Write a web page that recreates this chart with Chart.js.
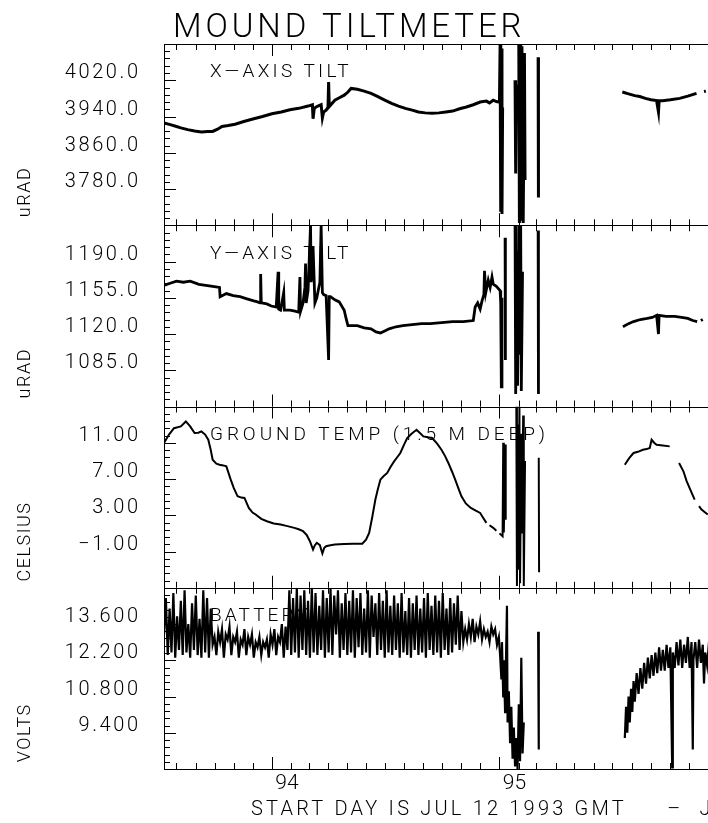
<!DOCTYPE html>
<html>
<head>
<meta charset="utf-8">
<title>Mound Tiltmeter</title>
<script src="https://cdn.jsdelivr.net/npm/chart.js@4.4.1/dist/chart.umd.min.js"></script>
<style>
  html, body { margin: 0; padding: 0; background: #fff; overflow: hidden; }
  #wrap { width: 708px; height: 823px; overflow: hidden; }
  canvas { display: block; }
</style>
</head>
<body>
<div id="wrap"><canvas id="chart" width="760" height="823" style="width:760px;height:823px"></canvas></div>
<script>
// x values are days after the start day (JUL 12 1993)
const START = Date.UTC(1993, 6, 12);
const DAY = 86400000;

const yearLabels = ['94', '95'];
const yearDays = [173, 538];

const panelNames = ['X\u2014AXIS TILT', 'Y\u2014AXIS TILT', 'GROUND TEMP (1.5 M DEEP)', 'BATTERY'];
const panelUnits = ['uRAD', 'uRAD', 'CELSIUS', 'VOLTS'];
const panelRanges = [[3700, 4100], [1050, 1225], [-5, 15], [8, 15]];
const panelTicks = [[3780, 3860, 3940, 4020], [1085, 1120, 1155, 1190], [-1, 3, 7, 11], [9.4, 10.8, 12.2, 13.6]];
const panelDecimals = [1, 1, 2, 3];

// X-axis tilt, uRAD
const tiltXDays = [0, 10, 20, 27, 38, 49, 60, 70, 78, 86, 93, 103, 114, 128, 144, 158, 173, 188, 202, 216,
  231, 238, 239, 241, 245, 252, 254, 256, 260, 263, 264, 265, 274, 282, 289, 295, 300, 310, 321, 332,
  343, 354, 365, 376, 387, 398, 408, 419, 430, 441, 452, 463, 474, 485, 496, 507, 517, 522, 528, 533,
  536, 538, 539, 540, 541, 542, 543, 544, 563, 564, 565, 566, 569, 570, 571, 572, 574, 576, 578, 579,
  580, 600, 600.5, 601, 735, 745, 755, 763, 772, 781, 790, 793, 794, 800, 812, 827, 840, 854, 862, 866, 869];
const tiltX = [3926, 3922, 3918, 3915, 3911, 3908, 3906, 3907, 3907, 3912, 3918, 3920, 3923, 3929, 3935, 3940, 3946, 3950, 3955, 3958,
  3963, 3966, 3935, 3958, 3962, 3966, 3937, 3950, 3954, 3960, 4016, 3962, 3976, 3982, 3987, 3994, 4002, 4000, 3996, 3991,
  3984, 3976, 3969, 3963, 3958, 3954, 3950, 3948, 3947, 3948, 3950, 3952, 3957, 3961, 3966, 3972, 3974, 3970, 3976, 3973,
  3972, 3974, 4098, 3730, 4090, 3725, 3960, null, 4020, 3814, 4010, null, 4100, 3705, 4098, 3710, 4095, 3705, 4080, 3800,
  null, 4071, 3761, null, 3994, 3990, 3986, 3984, 3980, 3977, 3975, 3950, 3975, 3975, 3977, 3980, 3985, 3991, null, 3995, 3996];

// Y-axis tilt, uRAD
const tiltYDays = [0, 10, 20, 31, 42, 56, 67, 78, 89, 90, 100, 111, 122, 133, 144, 150, 154, 155, 156, 165,
  172, 180, 183, 184, 187, 192, 193, 202, 210, 216, 218, 219, 223, 226, 227, 228, 231, 235, 236, 239,
  242, 245, 250, 252, 254, 256, 260, 264, 265, 267, 274, 281, 289, 292, 295, 303, 310, 321, 332, 340,
  347, 354, 361, 372, 383, 398, 413, 427, 445, 463, 480, 496, 499, 503, 507, 510, 513, 514, 516, 520,
  523, 526, 528, 533, 539, 540, 541, 542, 543, 547, 547.5, 548, 563, 564, 566, 567, 569, 570, 572, 573,
  575, 576, 600, 600.5, 601, 736, 745, 753, 764, 775, 783, 790, 793, 794, 805, 819, 830, 840, 848, 855,
  858, 861, 864];
const tiltY = [1167, 1169, 1171, 1170, 1171, 1168, 1167, 1166, 1165, 1156, 1159, 1157, 1156, 1154, 1152, 1151, 1150, 1178, 1150, 1149,
  1147, 1146, 1180, 1144, 1143, 1160, 1143, 1143, 1142, 1141, 1175, 1142, 1150, 1165, 1188, 1150, 1162, 1225, 1170, 1205,
  1150, 1155, 1170, 1225, 1160, 1158, 1157, 1095, 1156, 1156, 1153, 1151, 1143, 1135, 1128, 1128, 1128, 1126, 1125, 1122,
  1121, 1123, 1125, 1127, 1128, 1129, 1130, 1130, 1131, 1132, 1132, 1133, 1146, 1150, 1144, 1152, 1158, 1181, 1160, 1172,
  1165, 1175, 1168, 1166, 1162, 1150, 1069, 1155, null, 1213, 1095, null, 1225, 1062, 1200, 1070, 1225, 1100, 1225, 1065,
  1180, null, 1220, 1062, null, 1127, 1130, 1132, 1134, 1135, 1136, 1138, 1120, 1138, 1137, 1137, 1136, 1135, 1133, 1132,
  null, 1133, 1134];

// ground temperature 1.5 m deep, celsius
const tempDays = [0, 8, 16, 27, 35, 42, 49, 55, 60, 66, 71, 75, 78, 84, 89, 95, 100, 107, 112, 118,
  124, 129, 136, 142, 147, 156, 165, 176, 187, 198, 209, 216, 223, 229, 234, 239, 242, 245, 250, 254,
  257, 260, 267, 274, 289, 303, 318, 324, 329, 334, 339, 343, 347, 352, 358, 363, 369, 374, 379, 385,
  390, 397, 405, 410, 416, 423, 430, 438, 445, 451, 456, 462, 467, 472, 477, 484, 492, 500, 507, 512,
  517, 520, 522, 528, 533, 536, 538, 543, 544, 545, 547, 548, 549, 565, 566, 567, 568, 570, 571, 573,
  574, 576, 577, 579, 580, 601, 601.5, 602, 739, 746, 753, 760, 768, 774, 779, 782, 786, 790, 800, 811,
  815, 826, 833, 838, 844, 851, 855, 858, 862, 872];
const temp = [10.97, 11.9, 12.6, 12.8, 13.35, 12.8, 12.07, 12.1, 12.25, 11.9, 11.33, 10.2, 9.13, 8.7, 8.58, 8.5, 8.39, 6.93, 6.0, 5.09,
  4.95, 4.91, 3.81, 3.3, 3.08, 2.6, 2.34, 2.1, 1.98, 1.8, 1.61, 1.45, 1.24, 0.8, 0.14, -0.78, -0.3, -0.04, -0.3, -1.22,
  -0.6, -0.41, -0.3, -0.23, -0.18, -0.15, -0.15, 0.3, 1.06, 2.8, 4.73, 5.9, 6.93, 7.3, 7.67, 8.3, 8.94, 9.4, 9.87, 10.8,
  11.52, 12.0, 12.43, 12.1, 11.7, 11.6, 11.52, 10.9, 10.23, 9.5, 8.77, 7.8, 6.93, 6.0, 5.09, 4.3, 3.81, 3.5, 3.26, 2.7,
  2.16, null, 1.9, 1.61, 1.3, null, 1.0, 0.69, 11.0, 1.1, 10.8, 2.5, null, 15.0, -4.8, 13.0, -3.0, 15.0, -4.5, 12.0,
  1.0, 14.0, -4.8, 9.0, null, 9.35, -3.3, null, 8.58, 9.3, 9.87, 10.0, 10.23, 10.3, 10.42, 11.33, 11.0, 10.78, 10.7, 10.6,
  null, 8.77, 7.85, 6.8, 5.83, 4.73, null, 4.0, 3.63, 3.08];

// battery, volts
const batteryDays = [0, 3, 6, 9, 12, 15, 18, 21, 24, 27, 30, 33, 36, 39, 42, 45, 48, 51, 54, 57,
  60, 63, 66, 69, 72, 75, 78, 81, 84, 87, 90, 93, 96, 99, 102, 105, 108, 111, 114, 117,
  120, 123, 126, 129, 132, 135, 138, 141, 144, 147, 150, 153, 156, 159, 162, 165, 168, 171, 174, 177,
  180, 183, 186, 189, 192, 195, 198, 201, 204, 207, 210, 213, 216, 219, 222, 225, 228, 231, 234, 237,
  240, 243, 246, 249, 252, 255, 258, 261, 264, 267, 270, 273, 276, 279, 282, 285, 288, 291, 294, 297,
  300, 303, 306, 309, 312, 315, 318, 321, 324, 327, 330, 333, 336, 339, 342, 345, 348, 351, 354, 357,
  360, 363, 366, 369, 372, 375, 378, 381, 384, 387, 390, 393, 396, 399, 402, 405, 408, 411, 414, 417,
  420, 423, 426, 429, 432, 435, 438, 441, 444, 447, 450, 453, 456, 459, 462, 465, 468, 471, 474, 477,
  480, 483, 486, 489, 492, 495, 498, 501, 504, 507, 510, 513, 516, 519, 522, 525, 528, 531, 534, 537,
  539, 541, 542, 544, 545, 547, 548, 550, 551, 553, 555, 557, 559, 561, 563, 565, 567, 569, 571, 573,
  575, 577, 578, 600, 601, 602, 739, 741, 743, 745, 747, 749, 751, 753, 755, 758, 761, 764, 767, 770,
  773, 776, 779, 782, 785, 788, 791, 794, 797, 800, 803, 806, 809, 812, 815, 816, 819, 822, 825, 828,
  831, 834, 837, 840, 843, 846, 848, 849, 852, 855, 858, 861, 864, 866, 868, 871, 874];
const battery = [13.2, 14.6, 12.4, 14.2, 12.5, 14.8, 12.3, 13.9, 12.6, 14.5, 12.4, 14.9, 12.5, 13.6, 12.3, 14.4, 12.6, 14.7, 12.4, 13.8,
  12.3, 14.9, 12.5, 14.6, 12.3, 14.2, 12.8, 13.1, 12.4, 13.3, 12.9, 13.4, 12.3, 13.2, 13.0, 13.5, 12.4, 13.1, 12.9, 13.3,
  12.3, 13.0, 12.8, 13.4, 12.4, 13.1, 12.8, 13.2, 12.3, 12.9, 12.7, 13.1, 12.4, 12.9, 12.7, 13.0, 12.3, 13.2, 12.8, 13.4,
  12.4, 13.1, 12.9, 13.6, 12.3, 13.5, 12.6, 14.9, 12.4, 14.6, 12.5, 15.0, 12.3, 14.7, 12.6, 14.9, 12.4, 14.5, 12.3, 15.0,
  12.5, 14.8, 12.4, 14.3, 12.6, 14.9, 12.3, 14.6, 12.5, 15.0, 12.4, 14.7, 13.2, 14.9, 12.3, 14.4, 12.6, 14.8, 12.4, 14.5,
  12.5, 14.9, 12.3, 14.6, 12.7, 14.8, 12.4, 14.2, 12.5, 14.9, 12.3, 14.7, 13.1, 14.4, 12.4, 14.8, 12.6, 14.5, 12.3, 14.9,
  12.5, 14.3, 12.4, 14.7, 12.6, 14.4, 12.3, 14.8, 12.5, 14.1, 12.4, 14.6, 12.3, 14.4, 12.6, 14.7, 12.4, 14.2, 12.5, 14.6,
  12.3, 14.8, 12.6, 14.3, 12.4, 14.7, 12.5, 14.5, 12.3, 14.8, 12.6, 14.2, 12.4, 14.6, 12.5, 14.4, 12.8, 14.7, 12.6, 14.1,
  12.9, 13.4, 13.0, 13.6, 13.1, 13.8, 12.9, 13.5, 13.2, 13.7, 13.0, 13.4, 13.1, 13.3, 12.9, 13.5, 13.2, 13.4, 12.8, 13.1,
  12.4, 11.5, 12.9, 10.8, 12.2, 10.2, 11.6, 14.3, 9.8, 11.0, 9.0, 10.4, 8.4, 9.6, 8.1, 9.2, 8.0, 10.5, 8.3, 12.3,
  8.6, 9.8, null, 13.3, 8.75, null, 9.2, 10.4, 9.4, 10.8, 9.8, 11.1, 10.2, 11.4, 10.6, 11.7, 10.9, 11.9, 11.1, 12.1,
  11.3, 12.3, 11.5, 12.4, 11.6, 12.5, 11.7, 12.7, 11.8, 12.6, 11.8, 12.8, 11.9, 12.7, 8.06, 12.5, 11.9, 12.9, 12.0, 13.0,
  11.9, 12.8, 12.1, 13.1, 11.9, 12.9, 8.75, 12.2, 12.9, 11.9, 13.0, 12.1, 12.8, 11.3, 12.5, 12.0, 12.9];

const panelIds = ['yTiltX', 'yTiltY', 'yTemp', 'yBattery'];
const seriesDays = [tiltXDays, tiltYDays, tempDays, batteryDays];
const seriesValues = [tiltX, tiltY, temp, battery];
const seriesWidths = [3, 2.8, 2, 2.2];

const FONT = 'Roboto';
const WEIGHT = 300;
const LEFT = 164;   // left edge of the plot frame
const TOP = 44;
const BOTTOM = 769;
const PX_PER_DAY = (499.4 - 271.8) / 365;
const CANVAS_W = 760;
const XMAX = (CANVAS_W - LEFT) / PX_PER_DAY;

// month starts, for the small ticks on every frame edge
const monthDays = [];
for (let y = 1993; y <= 1996; y++) {
  for (let m = 0; m < 12; m++) {
    const d = (Date.UTC(y, m, 1) - START) / DAY;
    if (d > 0 && d < XMAX) monthDays.push(d);
  }
}

function fmt(v, dec) {
  const s = Math.abs(v).toFixed(dec);
  return v < 0 ? '\u2212' + s : s;
}

const scales = {
  x: {
    type: 'linear', position: 'bottom', min: 0, max: XMAX,
    afterBuildTicks: s => { s.ticks = yearDays.map(v => ({ value: v })); },
    afterFit: s => { s.height = 823 - BOTTOM; },
    grid: { drawOnChartArea: false, drawTicks: false },
    border: { display: true, color: '#000', width: 1 },
    ticks: {
      padding: 2, labelOffset: 15, maxRotation: 0, autoSkip: false, color: '#000',
      font: { family: FONT, size: 21, weight: WEIGHT },
      callback: (v, i) => yearLabels[i]
    }
  }
};
panelIds.forEach((id, k) => {
  scales[id] = {
    type: 'linear', position: 'left', stack: 'panels', stackWeight: 1, weight: 4 - k,
    min: panelRanges[k][0], max: panelRanges[k][1],
    afterBuildTicks: s => { s.ticks = panelTicks[k].map(v => ({ value: v })); },
    afterFit: s => { s.width = LEFT; },
    grid: { drawOnChartArea: false, drawTicks: false },
    border: { display: true, color: '#000', width: 1 },
    // labels are written by the frame plugin, which can space the letters
    ticks: { display: false }
  };
});

function line(ctx, x1, y1, x2, y2) {
  ctx.moveTo(x1, y1);
  ctx.lineTo(x2, y2);
}

function spacedText(ctx, text, x, y, size, spacing) {
  ctx.font = `${WEIGHT} ${size}px ${FONT}`;
  ctx.letterSpacing = spacing + 'px';
  ctx.fillText(text, x, y);
}

// frame edges with inward ticks, tick labels, panel names, units, title
const frame = {
  id: 'frame',
  beforeDatasetsDraw(chart) {
    const { ctx, scales: sc } = chart;
    ctx.save();
    ctx.fillStyle = '#000';
    ctx.textBaseline = 'middle';
    const spacing = [3.3, 3.3, 3.9, 3.1];
    panelIds.forEach((id, k) => {
      spacedText(ctx, panelNames[k], 210, sc[id].top + 28.5, 19, spacing[k]);
    });
    ctx.restore();
  },
  afterDraw(chart) {
    const { ctx, chartArea: area, scales: sc } = chart;
    const x = sc.x;
    ctx.save();
    ctx.strokeStyle = '#000';
    ctx.lineWidth = 1;
    ctx.beginPath();
    panelIds.forEach((id, k) => {
      const s = sc[id];
      const top = Math.round(s.top) + 0.5;
      line(ctx, area.left, top, area.right, top);
      monthDays.forEach(d => {
        const px = Math.round(x.getPixelForValue(d)) + 0.5;
        const len = yearDays.includes(d) ? 12 : 6;
        line(ctx, px, s.top, px, s.top + len);
        line(ctx, px, s.bottom, px, s.bottom - len);
      });
      const step = (panelTicks[k][1] - panelTicks[k][0]) / 5;
      for (let i = 1; i < 25; i++) {
        const py = Math.round(s.getPixelForValue(panelRanges[k][0] + i * step)) + 0.5;
        line(ctx, area.left, py, area.left + (i % 5 ? 6 : 12), py);
      }
    });
    ctx.stroke();

    ctx.fillStyle = '#000';
    // y tick labels, set a little above their ticks
    ctx.textAlign = 'right';
    ctx.textBaseline = 'middle';
    panelIds.forEach((id, k) => {
      const s = sc[id];
      s.ticks.forEach(t => {
        spacedText(ctx, fmt(t.value, panelDecimals[k]), area.left - 26 + 2.6, s.getPixelForValue(t.value) - 7, 20, 2.6);
      });
    });

    // units, rotated
    ctx.textAlign = 'center';
    panelIds.forEach((id, k) => {
      const s = sc[id];
      ctx.save();
      ctx.translate(25, s.top + [148, 148, 135, 145][k]);
      ctx.rotate(-Math.PI / 2);
      spacedText(ctx, panelUnits[k], 0, 0, 18, 1.5);
      ctx.restore();
    });

    // title
    ctx.textAlign = 'left';
    ctx.textBaseline = 'alphabetic';
    spacedText(ctx, 'MOUND TILTMETER', 173, 37, 33, 3.9);

    // caption under the axis
    spacedText(ctx, 'START DAY IS JUL 12 1993 GMT     \u2013  J', 251, 815, 20, 3.2);
    ctx.restore();
  }
};

new Chart(document.getElementById('chart'), {
  type: 'line',
  data: {
    datasets: panelIds.map((id, k) => ({
      data: seriesDays[k].map((d, i) => ({ x: d, y: seriesValues[k][i] })),
      yAxisID: id,
      xAxisID: 'x',
      borderColor: '#000',
      borderWidth: seriesWidths[k],
      pointRadius: 0,
      tension: 0,
      spanGaps: false,
      fill: false
    }))
  },
  options: {
    responsive: false,
    animation: false,
    events: [],
    layout: { padding: { top: TOP, right: 0, bottom: 0, left: 0 } },
    scales,
    plugins: { legend: { display: false }, tooltip: { enabled: false }, title: { display: false } }
  },
  plugins: [frame]
});
</script>
</body>
</html>
